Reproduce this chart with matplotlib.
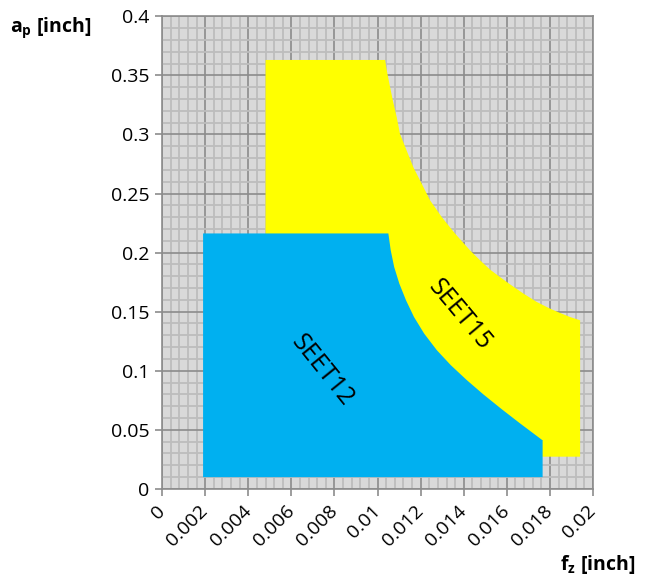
import matplotlib.pyplot as plt
from matplotlib.ticker import MultipleLocator

plt.rcParams['font.family'] = ['Open Sans', 'DejaVu Sans']
plt.rcParams['mathtext.fontset'] = 'custom'
plt.rcParams['mathtext.bf'] = 'Open Sans:bold'
plt.rcParams['mathtext.rm'] = 'Open Sans'

# SEET15 outline (fz, ap)
seet15_fz = [0.0048, 0.01035, 0.01043, 0.01055, 0.01071, 0.01089, 0.01104,
             0.01135, 0.01166, 0.01205, 0.01244, 0.01298, 0.0136, 0.01429,
             0.01476, 0.01522, 0.01568, 0.01615, 0.01677, 0.01739, 0.0180,
             0.01847, 0.01893, 0.0194, 0.0194, 0.01766, 0.0048]
seet15_ap = [0.363, 0.363, 0.3539, 0.3427, 0.3285, 0.3144, 0.3004,
             0.2863, 0.2722, 0.2582, 0.2441, 0.2300, 0.2160, 0.2019,
             0.1934, 0.1856, 0.1793, 0.1731, 0.1653, 0.1582, 0.1526,
             0.1489, 0.1455, 0.1427, 0.0273, 0.0273, 0.0273]

# SEET12 outline
seet12_fz = [0.0019, 0.0105, 0.01061, 0.01077, 0.01101, 0.01132, 0.01169,
             0.01216, 0.01275, 0.0134, 0.01414, 0.01491, 0.01576, 0.01661,
             0.01764, 0.01766, 0.01766, 0.0019]
seet12_ap = [0.2162, 0.2162, 0.2019, 0.1878, 0.1737, 0.1596, 0.1455,
             0.1315, 0.1174, 0.1047, 0.0921, 0.0800, 0.0675, 0.0555,
             0.0414, 0.0414, 0.010, 0.010]

x_ticks = [0, 0.002, 0.004, 0.006, 0.008, 0.01, 0.012, 0.014, 0.016, 0.018, 0.02]
x_labels = ['0', '0.002', '0.004', '0.006', '0.008', '0.01', '0.012', '0.014',
            '0.016', '0.018', '0.02']
y_ticks = [0, 0.05, 0.1, 0.15, 0.2, 0.25, 0.3, 0.35, 0.4]
y_labels = ['0', '0.05', '0.1', '0.15', '0.2', '0.25', '0.3', '0.35', '0.4']

fig = plt.figure(figsize=(6.46, 5.8), dpi=100)
ax = fig.add_axes([0.251, 0.157, 0.667, 0.815])
ax.set_facecolor('#D9D9D9')

ax.set_xlim(0, 0.02)
ax.set_ylim(0, 0.4)
ax.set_xticks(x_ticks)
ax.set_xticklabels(x_labels, rotation=45, ha='right', va='center',
                   rotation_mode='anchor', fontsize=14)
ax.set_yticks(y_ticks)
ax.set_yticklabels(y_labels, fontsize=14)
ax.xaxis.set_minor_locator(MultipleLocator(0.0004))
ax.yaxis.set_minor_locator(MultipleLocator(0.01))
ax.tick_params(which='major', direction='out', length=5, width=1.2, color='#8C8C8C', pad=4)
ax.tick_params(axis='x', pad=9)
ax.tick_params(which='minor', length=0)

ax.grid(which='minor', color='#BDBDBD', linewidth=1.3)
ax.grid(which='major', color='#8C8C8C', linewidth=1.2)
ax.set_axisbelow(True)
for s in ax.spines.values():
    s.set_color('#8C8C8C')
    s.set_linewidth(1.2)

ax.fill(seet15_fz, seet15_ap, color='#FFFF00', zorder=3, lw=0)
ax.fill(seet12_fz, seet12_ap, color='#00B0F0', zorder=4, lw=0)

ax.text(0.00742, 0.1005, 'SEET12', rotation=-51, ha='center', va='center',
        fontsize=18, zorder=5)
ax.text(0.01383, 0.147, 'SEET15', rotation=-50, ha='center', va='center',
        fontsize=18, zorder=5)

fig.text(0.079, 0.952, r'$\mathbf{a}_\mathbf{p}$ [inch]', ha='center', va='center',
         fontsize=14, fontweight='bold')
fig.text(0.925, 0.026, r'$\mathbf{f}_\mathbf{z}$ [inch]', ha='center', va='center',
         fontsize=14, fontweight='bold')

plt.savefig('out.png', dpi=100)
